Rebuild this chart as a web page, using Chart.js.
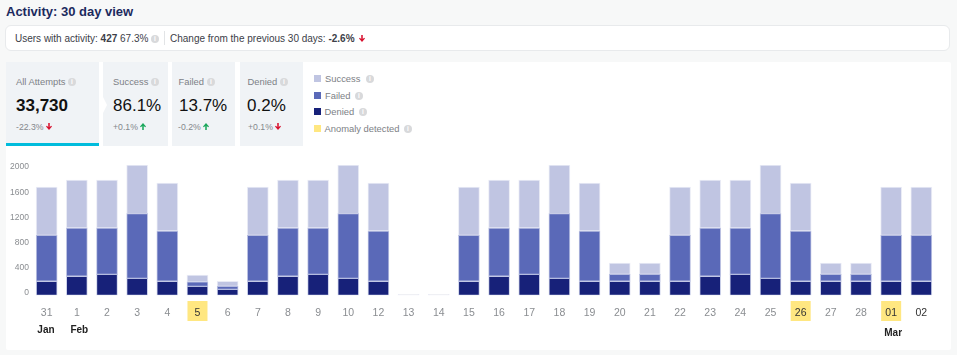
<!DOCTYPE html>
<html>
<head>
<meta charset="utf-8">
<title>Activity: 30 day view</title>
<script src="https://cdn.jsdelivr.net/npm/chart.js@4"></script>
<style>
  * { box-sizing: border-box; }
  html, body { margin: 0; width: 957px; height: 355px; overflow: hidden; background: #f7f8f8; font-family: "Liberation Sans", Arial, sans-serif; }
  .abs { position: absolute; white-space: nowrap; }
  h1 { position: absolute; left: 6px; top: 3px; margin: 0; font-size: 13px; line-height: 18px; font-weight: bold; color: #1c2a5e; }
  .bar { position: absolute; left: 5px; top: 25px; width: 945px; height: 26px; background: #fff; border: 1px solid #e8eaec; border-radius: 6px; }
  .panel { position: absolute; left: 6px; top: 62px; width: 945px; height: 288px; background: #fff; border-radius: 2px; }
  .txt { font-size: 10px; color: #3c4048; line-height: 14px; }
  .card { position: absolute; top: 62px; height: 84px; background: #f0f3f6; }
  .lab { color: #7d8186; font-size: 9.4px; line-height: 14px; }
  .big { color: #111; font-size: 17px; line-height: 22px; }
  .chg { color: #85888c; font-size: 8.7px; line-height: 12px; }
  .i { position: absolute; width: 8px; height: 8px; border-radius: 50%; background: #d8d9db; color: #fff; font-size: 6.5px; line-height: 8px; text-align: center; font-weight: bold; }
  .arr { position: absolute; width: 6px; height: 7px; }
  .up { fill: #1aa85c; }
  .down { fill: #d8112f; }
  .sw { position: absolute; left: 314px; width: 7px; height: 7px; }
  .notch { position: absolute; left: 103px; top: 97px; width: 0; height: 0; border-top: 8px solid transparent; border-bottom: 8px solid transparent; border-left: 4px solid #fff; }
  #wrap { position: absolute; left: 0; top: 150px; width: 957px; height: 205px; }
</style>
</head>
<body>
<svg width="0" height="0" style="position:absolute">
  <symbol id="arrDown" viewBox="0 0 7 8"><path d="M2.6 0h1.8v4.6L6 3l1 1-3.5 4L0 4l1-1 1.6 1.6z"/></symbol>
  <symbol id="arrUp" viewBox="0 0 7 8"><path d="M2.6 8h1.8V3.4L6 5l1-1-3.5-4L0 4l1 1 1.6-1.6z"/></symbol>
</svg>
<h1>Activity: 30 day view</h1>
<div class="bar"></div>
<div class="abs txt" style="left:15px;top:32px">Users with activity: <b>427</b> 67.3%</div>
<span class="i" style="left:151px;top:35px">i</span>
<div class="abs" style="left:164px;top:31px;width:1px;height:14px;background:#e2e4e6"></div>
<div class="abs txt" style="left:170px;top:32px">Change from the previous 30 days: <b>-2.6%</b></div>
<svg class="arr down" style="left:359px;top:35px"><use href="#arrDown"/></svg>

<div class="panel"></div>
<div class="card" style="left:6px;width:93px;border-bottom:3px solid #00bcdc"></div>
<div class="card" style="left:103px;width:65px"></div>
<div class="notch"></div>
<div class="card" style="left:172px;width:63px"></div>
<div class="card" style="left:240px;width:63px"></div>

<div class="abs lab" style="left:16px;top:75px">All Attempts</div><span class="i" style="left:68px;top:78px">i</span>
<div class="abs big" style="left:16px;top:95px;font-weight:bold">33,730</div>
<div class="abs chg" style="left:16px;top:121px">-22.3%</div><svg class="arr down" style="left:46px;top:123px"><use href="#arrDown"/></svg>
<div class="abs lab" style="left:113px;top:75px">Success</div><span class="i" style="left:151px;top:78px">i</span>
<div class="abs big" style="left:113px;top:95px">86.1%</div>
<div class="abs chg" style="left:113px;top:121px">+0.1%</div><svg class="arr up" style="left:140px;top:123px"><use href="#arrUp"/></svg>
<div class="abs lab" style="left:178.5px;top:75px">Failed</div><span class="i" style="left:207px;top:78px">i</span>
<div class="abs big" style="left:179px;top:95px">13.7%</div>
<div class="abs chg" style="left:178px;top:121px">-0.2%</div><svg class="arr up" style="left:203px;top:123px"><use href="#arrUp"/></svg>
<div class="abs lab" style="left:247.5px;top:75px">Denied</div><span class="i" style="left:280px;top:78px">i</span>
<div class="abs big" style="left:247px;top:95px">0.2%</div>
<div class="abs chg" style="left:248px;top:121px">+0.1%</div><svg class="arr down" style="left:275px;top:123px"><use href="#arrDown"/></svg>

<div class="sw" style="top:75px;background:#c0c5e2"></div>
<div class="abs lab" style="left:325px;top:72px">Success</div><span class="i" style="left:366px;top:75px">i</span>
<div class="sw" style="top:92px;background:#5a69b8"></div>
<div class="abs lab" style="left:325px;top:88.5px">Failed</div><span class="i" style="left:355px;top:92px">i</span>
<div class="sw" style="top:108px;background:#172179"></div>
<div class="abs lab" style="left:324.5px;top:105px">Denied</div><span class="i" style="left:359px;top:108px">i</span>
<div class="sw" style="top:125px;background:#ffe781"></div>
<div class="abs lab" style="left:324.5px;top:121.5px">Anomaly detected</div><span class="i" style="left:404px;top:125px">i</span>

<div id="wrap"><canvas id="activityChart" width="957" height="205"></canvas></div>

<script>
// values
const days = ['31','1','2','3','4','5','6','7','8','9','10','12','13','14','15','16','17','18','19','20','21','22','23','24','25','26','27','28','01','02'];
const denied = [215,292,322,261,215,138,92,215,292,322,261,215,0,0,215,292,322,261,215,215,215,215,292,322,261,215,215,215,215,215];
const failed = [706,741,711,992,772,67,46,706,741,711,992,772,0,0,706,741,711,992,772,107,107,706,741,711,992,772,107,107,706,706];
const success = [741,737,737,747,737,107,77,741,737,737,747,737,15,15,741,737,737,747,737,174,174,741,737,737,747,737,174,174,741,741];
const yTicks = [0,400,800,1200,1600,2000];
const anomalyDays = ['5','26','01'];
const darkDays = ['5','26','01','02'];
const months = ['Jan','Feb','Mar'];
const monthDays = ['31','1','01'];

const fontFamily = '"Liberation Sans", Arial, sans-serif';

const dayLabels = {
  id: 'dayLabels',
  beforeDraw(chart) {
    const { ctx, scales: { x } } = chart;
    ctx.save();
    ctx.fillStyle = '#ffe781';
    anomalyDays.forEach(d => {
      ctx.fillRect(x.getPixelForValue(days.indexOf(d)) - 10, 151, 20, 20);
    });
    ctx.restore();
  },
  afterDraw(chart) {
    const { ctx, scales: { x } } = chart;
    ctx.save();
    ctx.fillStyle = '#222';
    ctx.font = 'bold 10px ' + fontFamily;
    ctx.textAlign = 'center';
    ctx.textBaseline = 'middle';
    months.forEach((m, i) => {
      const shift = m === 'Feb' ? 2.5 : m === 'Mar' ? 2 : -0.7;
      const y = m === 'Mar' ? 183 : 180.5;
      ctx.fillText(m, x.getPixelForValue(days.indexOf(monthDays[i])) + shift, y);
    });
    ctx.restore();
  }
};

const ctx = document.getElementById('activityChart').getContext('2d');
new Chart(ctx, {
  type: 'bar',
  data: {
    labels: days,
    datasets: [
      { label: 'Denied', data: denied, backgroundColor: '#172179', borderColor: 'rgba(90,105,184,.3)' },
      { label: 'Failed', data: failed, backgroundColor: '#5a69b8', borderColor: 'rgba(90,105,184,.4)' },
      { label: 'Success', data: success, backgroundColor: success.map(v => v < 20 ? '#ececef' : '#c0c5e2'), borderColor: 'rgba(192,197,226,.35)' }
    ]
  },
  options: {
    responsive: false,
    animation: false,
    layout: { padding: { top: 15, right: 20.6, left: 0, bottom: 0 } },
    datasets: {
      bar: { barThickness: 21, borderWidth: 1, borderSkipped: false }
    },
    plugins: {
      legend: { display: false },
      title: { display: false },
      tooltip: { enabled: false }
    },
    scales: {
      x: {
        stacked: true,
        afterFit(scale) { scale.height = 59.7; },
        grid: { display: false },
        border: { display: false },
        ticks: {
          color: c => darkDays.includes(days[c.index]) ? '#333' : '#8a8d91',
          font: { size: 10.5, family: fontFamily },
          padding: 4,
          maxRotation: 0,
          autoSkip: false
        }
      },
      y: {
        stacked: true,
        display: false,
        min: 0,
        max: 2000
      },
      // the labels sit a little tighter than the bars in the picture, so they get their own axis
      yLabels: {
        position: 'left',
        min: -52,
        max: 2016,
        afterBuildTicks(scale) {
          scale.ticks = yTicks.map(v => ({ value: v }));
        },
        afterFit(scale) { scale.width = 31.6; },
        grid: { display: false, drawTicks: false },
        border: { display: false },
        ticks: {
          color: '#8a8d91',
          font: { size: 8.5, family: fontFamily },
          padding: 2.6,
          labelOffset: 1,
          callback: v => String(v)
        }
      }
    }
  },
  plugins: [dayLabels]
});
</script>
</body>
</html>
